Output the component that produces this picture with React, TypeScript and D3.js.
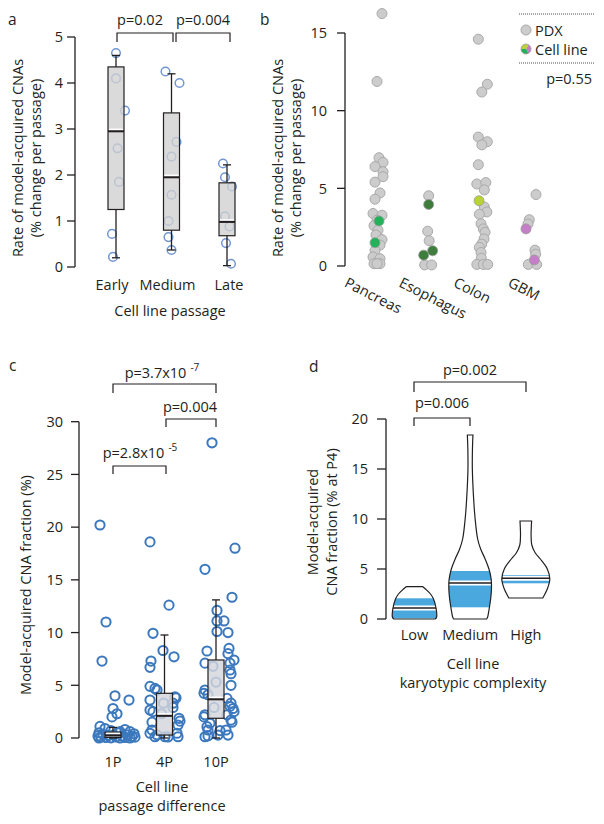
import React from "react";
import * as d3 from "d3";

const FONT = "'Open Sans', sans-serif";
const INK = "#231f20";

// ---------------- Panel a ----------------
const aCategories = ["Early", "Medium", "Late"];
const aMin = [0.2, 0.37, 0.03];
const aQ1 = [1.25, 0.8, 0.68];
const aMedian = [2.95, 1.95, 0.98];
const aQ3 = [4.35, 3.35, 1.83];
const aMax = [4.6, 4.2, 2.22];
const aEarly = [4.65, 4.1, 3.4, 2.58, 1.85, 0.72, 0.22];
const aEarlyJitter = [0, 0, 9, 1.5, 3, -4, -3];
const aMedium = [4.25, 4.0, 2.72, 2.4, 1.57, 1.0, 0.65, 0.37];
const aMediumJitter = [-6, 8, 5, 0, 0, -3, -3, 0];
const aLate = [2.25, 1.95, 1.75, 1.1, 0.88, 0.52, 0.07];
const aLateJitter = [-4, -2, 5, -2, 2.5, -1, 4];
const aTicks = [0, 1, 2, 3, 4, 5];

// ---------------- Panel b ----------------
const bCategories = ["Pancreas", "Esophagus", "Colon", "GBM"];
const bTicks = [0, 5, 10, 15];
const bPancreasPDX = [16.25, 11.88, 6.97, 6.67, 6.4, 6.07, 5.75, 5.4, 4.7, 4.3, 3.38, 3.27, 2.95, 2.6, 2.3, 2.0, 1.7, 1.35, 1.0, 0.58, 0.47, 0.15, 0.15, 0.15];
const bPancreasPDXJitter = [5, 0, 2, 6, -2, 6, 6, -2, 3, -2, -4, 5, 0, -3, 1, -1, 5, 3, -2, -4, 3, -3, 3, 0];
const bPancreasCell = [2.9, 1.5];
const bPancreasCellJitter = [2, -2];
const bEsophagusPDX = [4.52, 2.24, 1.63, 0.07, 0.07];
const bEsophagusPDXJitter = [0, -1, 0.5, -4, 3];
const bEsophagusCell = [3.96, 0.98, 0.7];
const bEsophagusCellJitter = [0, 4, -5];
const bColonPDX = [14.6, 11.7, 11.2, 8.3, 8.0, 7.8, 6.52, 5.28, 5.37, 4.9, 3.8, 3.48, 3.33, 2.72, 2.39, 2.17, 1.74, 1.41, 1.2, 0.87, 0.5, 0.1, 0.1, 0.1];
const bColonPDXJitter = [-2, 7, 1.5, -2, 7, 1.5, -2, -3.5, 5.5, 4, 4, 6.5, -1, 0.7, 3, 4.7, 3.7, 1.4, -1, 0.7, 1, -3.5, 3, 7.4];
const bColonCell = [4.2];
const bColonCellJitter = [-1.3];
const bGBMPDX = [4.6, 2.98, 2.7, 1.02, 0.76, 0.1, 0.1];
const bGBMPDXJitter = [4, -2.7, -4, 3, 3.7, -3.7, 4.7];
const bGBMCell = [2.39, 0.39];
const bGBMCellJitter = [-6, 2.3];
const bCellColors = ["#22b35a", "#3f7d3c", "#b8d432", "#c47fc8"];

// ---------------- Panel c ----------------
const cCategories = ["1P", "4P", "10P"];
const cMin = [0.0, 0.0, 0.0];
const cQ1 = [0.05, 0.28, 1.87];
const cMedian = [0.25, 2.1, 3.67];
const cQ3 = [0.55, 4.24, 7.4];
const cMax = [1.0, 9.77, 13.1];
const cTicks = [0, 5, 10, 15, 20, 25, 30];
const c1P = [20.2, 11.0, 7.3, 4.0, 3.6, 2.8, 2.3, 2.0, 1.1, 0.9, 0.8, 0.7, 0.6, 0.5, 0.5, 0.4, 0.35, 0.3, 0.25, 0.2, 0.2, 0.15, 0.1, 0.1, 0.08, 0.05, 0.05, 0.02, 0.0, 0.0, 0.0, 0.3, 0.6];
const c1PJitter = [-13, -7, -11, 2, 16, 0, 4, -1, -13, -8, 12, -2, 17, -14, 6, 21, -10, 14, -5, 9, -15, 19, -12, 3, 22, -7, 12, -2, 7, -14, 17, 1, 7];
const c4P = [18.6, 12.6, 9.93, 8.3, 7.7, 7.3, 6.7, 4.9, 4.7, 4.55, 3.9, 3.8, 3.6, 3.3, 2.9, 2.65, 2.5, 1.87, 1.6, 1.5, 1.23, 0.76, 0.45, 0.45, 0.3, 0.12, 0.12, 0.12, 0.1, 3.3, 2.3];
const c4PJitter = [-14.5, 4.5, -11.5, -1.5, 9.5, -13.5, -14.5, -14.5, -9.5, -7.5, 10.5, 11.5, -14.5, 8.5, 8.5, -14.5, -11.5, 14.5, 15.5, -12.5, 13.5, -12.5, -14.5, 12.5, -7.5, -9.5, 0.5, 13.5, 3.5, -1, -3];
const c10P = [28.0, 18.0, 16.0, 13.35, 12.1, 11.1, 11.1, 10.1, 10.0, 8.5, 8.25, 8.0, 7.4, 7.1, 7.1, 6.45, 6.1, 5.0, 4.55, 4.24, 4.1, 3.76, 3.3, 3.0, 2.8, 2.5, 2.2, 2.2, 2.0, 1.7, 1.5, 1.4, 1.07, 0.76, 0.76, 0.7, 0.28, 0.28, 0.12, 0.2, 6.8, 5.3, 2.9];
const c10PJitter = [-4, 19, -11, 16, 1, 1, 8, 1, 12, 13, -9, 12, 18, -11, 14, 14, 15, 15, -11, -12, -8, 11, 15, 14, 17, 18, -11, 11, -12, 15, 16, -6, -9, -8, 10, 4, 2, 12, -11, -8, -3, 0, -2];

// ---------------- Panel d ----------------
const dCategories = ["Low", "Medium", "High"];
const dTicks = [0, 5, 10, 15, 20];
const dQ1 = [0.07, 1.17, 3.57];
const dMedian = [1.1, 3.6, 4.07];
const dQ3 = [2.07, 4.8, 4.4];
// density (half-width) profiles: [value, density]
const dLowDensity: [number, number][] = [[0, 20.5], [0.15, 22], [1, 21.7], [2, 19], [2.5, 16], [3.0, 11], [3.23, 8.3]];
const dMediumDensity: [number, number][] = [[0, 16.5], [0.2, 17.5], [1, 19], [2, 20.5], [3, 21.3], [4, 21], [5, 18.8], [6, 15], [7, 10.5], [8, 7.5], [10, 5], [12, 3.5], [15, 2.2], [17, 2.3], [18.4, 2.8]];
const dHighDensity: [number, number][] = [[2.1, 17], [2.2, 17.5], [3, 21.5], [4, 24], [5, 21.5], [6, 14.5], [6.6, 9.5], [7.4, 6], [8.4, 5.3], [9.2, 5.5], [9.8, 5.8]];

function Label({ x, y, children, anchor = "middle", size = 14.5 }: any) {
  return (
    <text x={x} y={y} textAnchor={anchor} fontSize={size} fontFamily={FONT} fill={INK}>
      {children}
    </text>
  );
}

// bx: baseline x of the first line, cy: vertical centre
function RotLabel({ bx, cy, lines, size = 14.5, gap = 18 }: any) {
  return (
    <g transform={`translate(${bx},${cy}) rotate(-90)`}>
      {lines.map((l: string, i: number) => (
        <text key={i} x={0} y={i * gap} textAnchor="middle" fontSize={size} fontFamily={FONT} fill={INK}>
          {l}
        </text>
      ))}
    </g>
  );
}

function YAxis({ scale, x, ticks, tickLen = 8, labelGap = 4, domain }: any) {
  const [d0, d1] = domain;
  return (
    <g>
      <line x1={x} x2={x} y1={scale(d0)} y2={scale(d1)} stroke={INK} strokeWidth={1.3} />
      {ticks.map((t: number) => (
        <g key={t}>
          <line x1={x - tickLen} x2={x} y1={scale(t)} y2={scale(t)} stroke={INK} strokeWidth={1.3} />
          <text x={x - tickLen - labelGap} y={scale(t)} dy="0.36em" textAnchor="end" fontSize={14.5} fontFamily={FONT} fill={INK}>
            {t}
          </text>
        </g>
      ))}
    </g>
  );
}

function Bracket({ x1, x2, y, drop, label, lx, ly, sup }: any) {
  return (
    <g>
      <path d={`M${x1},${y + drop}V${y}H${x2}V${y + drop}`} fill="none" stroke={INK} strokeWidth={1.2} />
      <text x={lx} y={ly} textAnchor="middle" fontSize={14.5} fontFamily={FONT} fill={INK}>
        {label}
        {sup ? (
          <tspan dx={4} dy={-7} fontSize={10}>
            {sup}
          </tspan>
        ) : null}
      </text>
    </g>
  );
}

function Box({ cx, y, min, q1, med, q3, max, w, capW, fill, opacity }: any) {
  return (
    <g>
      <line x1={cx} x2={cx} y1={y(max)} y2={y(q3)} stroke={INK} strokeWidth={1.3} />
      <line x1={cx} x2={cx} y1={y(q1)} y2={y(min)} stroke={INK} strokeWidth={1.3} />
      <line x1={cx - capW / 2} x2={cx + capW / 2} y1={y(max)} y2={y(max)} stroke={INK} strokeWidth={1.3} />
      <line x1={cx - capW / 2} x2={cx + capW / 2} y1={y(min)} y2={y(min)} stroke={INK} strokeWidth={1.3} />
      <rect x={cx - w / 2} y={y(q3)} width={w} height={y(q1) - y(q3)} fill={fill} fillOpacity={opacity} stroke={INK} strokeWidth={1.2} />
      <line x1={cx - w / 2 + 1} x2={cx + w / 2 - 1} y1={y(med) - 2} y2={y(med) - 2} stroke="#ffffff" strokeWidth={1.5} />
      <line x1={cx - w / 2} x2={cx + w / 2} y1={y(med)} y2={y(med)} stroke={INK} strokeWidth={2} />
    </g>
  );
}

export default function App() {
  // scales
  const xA = d3.scalePoint<string>().domain(aCategories).range([116, 227]);
  const yA = d3.scaleLinear().domain([0, 5]).range([267, 37]);
  const xB = d3.scalePoint<string>().domain(bCategories).range([377, 532]);
  const xBLabel = d3.scalePoint<string>().domain(bCategories).range([343.5, 507]);
  const yB = d3.scaleLinear().domain([0, 15]).range([266, 33]);
  const xC = d3.scalePoint<string>().domain(cCategories).range([113, 216]);
  const yC = d3.scaleLinear().domain([0, 30]).range([738, 421.7]);
  const xD = d3.scalePoint<string>().domain(dCategories).range([414.5, 525.8]);
  const yD = d3.scaleLinear().domain([0, 20]).range([619, 419]);

  const aSeries = [
    [aEarly, aEarlyJitter],
    [aMedium, aMediumJitter],
    [aLate, aLateJitter],
  ];
  const bPDX = [
    [bPancreasPDX, bPancreasPDXJitter],
    [bEsophagusPDX, bEsophagusPDXJitter],
    [bColonPDX, bColonPDXJitter],
    [bGBMPDX, bGBMPDXJitter],
  ];
  const bCell = [
    [bPancreasCell, bPancreasCellJitter],
    [bEsophagusCell, bEsophagusCellJitter],
    [bColonCell, bColonCellJitter],
    [bGBMCell, bGBMCellJitter],
  ];
  const cSeries = [
    [c1P, c1PJitter],
    [c4P, c4PJitter],
    [c10P, c10PJitter],
  ];
  const dDens = [dLowDensity, dMediumDensity, dHighDensity];

  const wScale = d3.scaleLinear().domain([0, 1]).range([0, 1]);
  const violinPath = (cx: number, dens: [number, number][]) =>
    d3
      .area<[number, number]>()
      .y((d) => yD(d[0]))
      .x0((d) => cx - wScale(d[1]))
      .x1((d) => cx + wScale(d[1]))
      .curve(d3.curveCatmullRom)(dens) as string;

  const pie = d3.pie<number>().sort(null).startAngle(-Math.PI * 0.5).endAngle(Math.PI * 1.5)([1, 1, 1]);
  const arc = d3.arc<d3.PieArcDatum<number>>().innerRadius(0).outerRadius(5);
  const legendPieColors = [bCellColors[2], bCellColors[3], bCellColors[0]];

  return (
    <svg width={604} height={824} style={{ position: "absolute", left: 0, top: 0, background: "#fff" }}>
      <rect width={604} height={824} fill="#fff" />

      {/* ===== Panel a ===== */}
      <Label x={8} y={25} anchor="start" size={15.5}>a</Label>
      <YAxis scale={yA} x={75} ticks={aTicks} domain={[0, 5]} tickLen={8} labelGap={4} />
      <RotLabel bx={23} cy={158} lines={["Rate of model-acquired CNAs", "(% change per passage)"]} />
      {aSeries.map(([vals, jit]: any, i) =>
        vals.map((v: number, j: number) => (
          <circle key={`a${i}-${j}`} cx={(xA(aCategories[i]) as number) + jit[j]} cy={yA(v)} r={4.3} fill="none" stroke="#7297d2" strokeWidth={1.5} />
        ))
      )}
      {aCategories.map((c, i) => (
        <Box key={c} cx={xA(c)} y={yA} min={aMin[i]} q1={aQ1[i]} med={aMedian[i]} q3={aQ3[i]} max={aMax[i]} w={16} capW={8} fill="#cfcfcf" opacity={0.78} />
      ))}
      {aCategories.map((c) => (
        <Label key={c} x={(xA(c) as number) + (c === "Medium" ? -4 : c === "Late" ? 2 : -4)} y={290}>{c}</Label>
      ))}
      <Label x={170} y={316}>Cell line passage</Label>
      <Bracket x1={117} x2={173} y={33} drop={9} label="p=0.02" lx={140} ly={25} />
      <Bracket x1={176} x2={230} y={33} drop={9} label="p=0.004" lx={203} ly={25} />

      {/* ===== Panel b ===== */}
      <Label x={260} y={25} anchor="start" size={15.5}>b</Label>
      <YAxis scale={yB} x={345} ticks={bTicks} domain={[0, 15]} tickLen={8} labelGap={10} />
      <RotLabel bx={283} cy={158} lines={["Rate of model-acquired CNAs", "(% change per passage)"]} />
      {bPDX.map(([vals, jit]: any, i) =>
        vals.map((v: number, j: number) => (
          <circle key={`bp${i}-${j}`} cx={(xB(bCategories[i]) as number) + jit[j]} cy={yB(v)} r={5} fill="#cccccc" stroke="#a9a9a9" strokeWidth={1} />
        ))
      )}
      {bCell.map(([vals, jit]: any, i) =>
        vals.map((v: number, j: number) => (
          <circle key={`bc${i}-${j}`} cx={(xB(bCategories[i]) as number) + jit[j]} cy={yB(v)} r={5} fill={bCellColors[i]} stroke="#9a9a9a" strokeWidth={0.8} />
        ))
      )}
      {bCategories.map((c) => (
        <text key={c} transform={`translate(${xBLabel(c)},286) rotate(27)`} fontSize={14.5} fontFamily={FONT} fill={INK}>
          {c}
        </text>
      ))}
      {/* legend */}
      <line x1={519} x2={595} y1={14} y2={14} stroke={INK} strokeWidth={0.8} strokeDasharray="1,1" />
      <circle cx={526} cy={30} r={5} fill="#cccccc" stroke="#a9a9a9" strokeWidth={1} />
      <Label x={535} y={35.5} anchor="start">PDX</Label>
      <g transform="translate(526,49)">
        {pie.map((p, i) => (
          <path key={i} d={arc(p) as string} fill={legendPieColors[i]} />
        ))}
        <circle r={5} fill="none" stroke="#9a9a9a" strokeWidth={0.8} />
      </g>
      <Label x={535} y={54.5} anchor="start">Cell line</Label>
      <line x1={519} x2={595} y1={63} y2={63} stroke={INK} strokeWidth={0.8} strokeDasharray="1,1" />
      <Label x={592} y={84} anchor="end">p=0.55</Label>

      {/* ===== Panel c ===== */}
      <Label x={9} y={371} anchor="start" size={15.5}>c</Label>
      <YAxis scale={yC} x={79} ticks={cTicks} domain={[0, 30]} tickLen={8} labelGap={8} />
      <RotLabel bx={31} cy={585} lines={["Model-acquired CNA fraction (%)"]} />
      {cSeries.map(([vals, jit]: any, i) =>
        vals.map((v: number, j: number) => (
          <circle key={`c${i}-${j}`} cx={(xC(cCategories[i]) as number) + jit[j]} cy={yC(v)} r={4.6} fill="none" stroke="#3b78bd" strokeWidth={2} />
        ))
      )}
      {cCategories.map((c, i) => (
        <Box key={c} cx={xC(c)} y={yC} min={cMin[i]} q1={cQ1[i]} med={cMedian[i]} q3={cQ3[i]} max={cMax[i]} w={16} capW={8} fill="#d3d6dc" opacity={0.82} />
      ))}
      {cCategories.map((c) => (
        <Label key={c} x={xC(c)} y={767}>{c}</Label>
      ))}
      <Label x={162} y={792}>Cell line</Label>
      <Label x={162} y={811}>passage difference</Label>
      <Bracket x1={113} x2={216} y={384} drop={9} label="p=3.7x10" sup="-7" lx={162} ly={378} />
      <Bracket x1={166} x2={216} y={419} drop={8} label="p=0.004" lx={190} ly={412} />
      <Bracket x1={113} x2={166} y={466} drop={8} label="p=2.8x10" sup="-5" lx={140} ly={458} />

      {/* ===== Panel d ===== */}
      <Label x={309} y={372} anchor="start" size={15.5}>d</Label>
      <YAxis scale={yD} x={386} ticks={dTicks} domain={[0, 20]} tickLen={9} labelGap={9} />
      <RotLabel bx={318} cy={522} lines={["Model-acquired", "CNA fraction (% at P4)"]} gap={19} />
      <defs>
        {dCategories.map((c, i) => (
          <clipPath key={c} id={`vclip${i}`}>
            <path d={violinPath(xD(c) as number, dDens[i])} />
          </clipPath>
        ))}
      </defs>
      {dCategories.map((c, i) => {
        const cx = xD(c) as number;
        return (
          <g key={c}>
            <path d={violinPath(cx, dDens[i])} fill="#fff" />
            <g clipPath={`url(#vclip${i})`}>
              <rect x={cx - 30} y={yD(dQ3[i])} width={60} height={yD(dQ1[i]) - yD(dQ3[i])} fill="#4aa8df" />
              <line x1={cx - 30} x2={cx + 30} y1={yD(dMedian[i])} y2={yD(dMedian[i])} stroke="#fff" strokeWidth={5} />
              <line x1={cx - 30} x2={cx + 30} y1={yD(dMedian[i])} y2={yD(dMedian[i])} stroke={INK} strokeWidth={1.6} />
            </g>
            <path d={violinPath(cx, dDens[i])} fill="none" stroke={INK} strokeWidth={1.2} />
          </g>
        );
      })}
      {dCategories.map((c) => (
        <Label key={c} x={xD(c)} y={640}>{c}</Label>
      ))}
      <Label x={473} y={669}>Cell line</Label>
      <Label x={473} y={688}>karyotypic complexity</Label>
      <Bracket x1={414} x2={470} y={418} drop={8} label="p=0.006" lx={442} ly={408} />
      <Bracket x1={414} x2={526} y={382} drop={10} label="p=0.002" lx={470} ly={375} />
    </svg>
  );
}
